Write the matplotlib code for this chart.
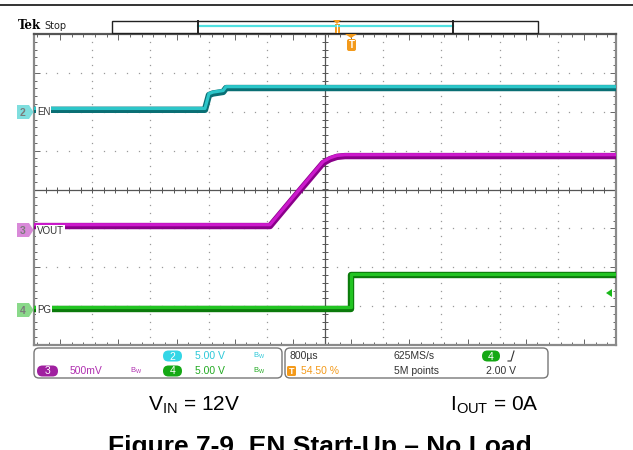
import numpy as np
import matplotlib.pyplot as plt
from matplotlib.patches import Polygon, FancyBboxPatch, Rectangle
from matplotlib.ticker import MultipleLocator

# -------------------------
# SCOPE SETTINGS
# -------------------------
t_per_div = 0.8          # ms/div (800 us)
trig_pct = 54.50         # trigger position, % of record
n_xdiv, n_ydiv = 10, 8
t_left = -trig_pct / 100 * n_xdiv * t_per_div
t_right = t_left + n_xdiv * t_per_div

# -------------------------
# TRACES (time in ms, volts)
# -------------------------
en_t = [t_left, -2.01, -1.955, -1.90, -1.76, -1.72, t_right]
en_v = [0.0, 0.0, 1.9, 2.1, 2.3, 2.8, 2.8]

vout_t = [t_left, -1.116, -0.704, -0.387, -0.291, -0.195, -0.085, t_right]
vout_v = [0.0, 0.0, 0.46, 0.81, 0.86, 0.89, 0.90, 0.90]

pg_t = [t_left, 0.0, 0.0, t_right]
pg_v = [0.0, 0.0, 4.35, 4.35]

# volts/div and position (div from screen centre)
en_scale, en_pos = 5.0, 2.05
vout_scale, vout_pos = 0.5, -0.94
pg_scale, pg_pos = 5.0, -3.07

W, H = 633, 450
fig = plt.figure(figsize=(W / 100, H / 100), dpi=100)
plt.rcParams['font.family'] = ['Liberation Sans', 'DejaVu Sans']

# plot area in pixels
px0, px1, py0, py1 = 34, 616, 34, 345
ax = fig.add_axes([px0 / W, 1 - py1 / H, (px1 - px0) / W, (py1 - py0) / H])
ax.set_xlim(t_left, t_right)
ax.set_ylim(-n_ydiv / 2, n_ydiv / 2)

# dotted graticule
grid_col = '#9a9a9a'
for i in range(1, n_xdiv):
    x = t_left + i * t_per_div
    if i == n_xdiv // 2:
        continue
    ys = np.arange(-4, 4.01, 0.2)
    ax.plot([x] * len(ys), ys, ls='none', marker='s', ms=0.9, mew=0, color=grid_col)
for j in range(-3, 4):
    if j == 0:
        continue
    xs = np.arange(t_left, t_right + 1e-6, t_per_div / 5)
    ax.plot(xs, [j] * len(xs), ls='none', marker='s', ms=0.9, mew=0, color=grid_col)

# centre cross
tc = t_left + 5 * t_per_div
ax.axvline(tc, color='#555555', lw=0.9)
ax.axhline(0, color='#555555', lw=0.9)
xs = np.arange(t_left, t_right + 1e-6, t_per_div / 5)
ax.plot(xs, [0] * len(xs), ls='none', marker='|', ms=4, mew=0.7, color='#555555')
ys = np.arange(-4, 4.01, 0.2)
ax.plot([tc] * len(ys), ys, ls='none', marker='_', ms=4, mew=0.7, color='#555555')

# border ticks
ax.xaxis.set_major_locator(MultipleLocator(t_per_div))
ax.xaxis.set_minor_locator(MultipleLocator(t_per_div / 5))
ax.yaxis.set_major_locator(MultipleLocator(1))
ax.yaxis.set_minor_locator(MultipleLocator(0.2))
ax.tick_params(which='both', direction='in', top=True, right=True,
               labelbottom=False, labelleft=False, color='#666666', width=0.7)
ax.tick_params(which='major', length=4)
ax.tick_params(which='minor', length=2.5)
for s in ax.spines.values():
    s.set_color('#8a8a8a')
    s.set_linewidth(1.6)
ax.spines['top'].set_color('#555555')


def trace(t, v, scale, pos, dark, bright):
    y = np.array(v) / scale + pos
    ax.plot(t, y, color=dark, lw=4.6, solid_joinstyle='round', zorder=3)
    ax.plot(t, y + 0.035, color=bright, lw=2.3, solid_joinstyle='round', zorder=4)


trace(en_t, en_v, en_scale, en_pos, '#0a6f74', '#2cc6c9')
trace(vout_t, vout_v, vout_scale, vout_pos, '#8a008a', '#cc1acc')
trace(pg_t, pg_v, pg_scale, pg_pos, '#0b7a0b', '#22c422')

# channel labels inside the screen
lbl_kw = dict(fontsize=7, color='#333333', va='center', ha='left', zorder=6,
              bbox=dict(fc='white', ec='none', pad=0.6))
dx = (t_right - t_left) / (px1 - px0)
ax.text(t_left + 3 * dx, en_pos - 0.05, 'EN', **lbl_kw)
ax.text(t_left + 3 * dx, vout_pos - 0.12, 'VOUT', **lbl_kw)
ax.text(t_left + 3 * dx, pg_pos - 0.02, 'PG', **lbl_kw)

# -------------------------
# OVERLAY (pixel coordinates)
# -------------------------
ov = fig.add_axes([0, 0, 1, 1], zorder=10)
ov.set_xlim(0, W)
ov.set_ylim(H, 0)
ov.axis('off')
ov.patch.set_alpha(0)

ov.plot([0, W], [5, 5], color='#333333', lw=1.4)
ov.text(18, 29, 'Tek', fontsize=8.5, fontweight='bold', family='DejaVu Serif', va='baseline')
ov.text(44, 29, 'Stop', fontsize=7, family='DejaVu Sans', va='baseline', color='#222222')

# record bar
ov.add_patch(Rectangle((112, 21), 426, 12, fc='white', ec='#222222', lw=1))
ov.plot([198, 453], [26, 26], color='#4fe0e0', lw=1.6)
ov.plot([198, 198], [21, 33], color='#222222', lw=1.4)
ov.plot([453, 453], [21, 33], color='#222222', lw=1.4)
orange = '#f39a1b'
ov.add_patch(Polygon([[333, 20], [341, 20], [337, 24]], closed=True, fc=orange, ec='none'))
ov.add_patch(Rectangle((334.5, 24), 5, 9, fc=orange, ec='none'))
ov.plot([337, 337], [25, 32], color='white', lw=0.8)

# trigger marker
ov.add_patch(Polygon([[345, 34], [357, 34], [351, 38]], closed=True, fc=orange, ec='none'))
ov.add_patch(FancyBboxPatch((347, 39), 9, 12, boxstyle='round,pad=0,rounding_size=2',
                            fc=orange, ec='none'))
ov.text(351.5, 45.5, 'T', fontsize=7, fontweight='bold', color='white', ha='center', va='center')

# channel ground markers
def ch_marker(y, num, fc):
    ov.add_patch(Polygon([[17, y - 7], [29, y - 7], [33.5, y], [29, y + 7], [17, y + 7]],
                         closed=True, fc=fc, ec='none'))
    ov.text(23, y + 0.5, num, fontsize=7.5, fontweight='bold', color='#7a7a7a',
            ha='center', va='center')


ch_marker(112, '2', '#7fdede')
ch_marker(230, '3', '#d98ad9')
ch_marker(310, '4', '#8ad98a')
ov.add_patch(Polygon([[606, 293], [612, 289], [612, 297]], closed=True, fc='#19b819', ec='none'))

# info panels
ov.add_patch(FancyBboxPatch((34, 348), 248, 30, boxstyle='round,pad=0,rounding_size=5',
                            fc='white', ec='#777777', lw=1))
ov.add_patch(FancyBboxPatch((285, 348), 263, 30, boxstyle='round,pad=0,rounding_size=5',
                            fc='white', ec='#777777', lw=1))


def pill(x, y, w, num, fc):
    ov.add_patch(FancyBboxPatch((x, y - 5.5), w, 11, boxstyle='round,pad=0,rounding_size=5.5',
                                fc=fc, ec='none'))
    ov.text(x + w / 2, y + 0.5, num, fontsize=7.5, color='white', ha='center', va='center')


cyan, mag, grn = '#2cc8d8', '#b030b0', '#22aa22'
r1, r2 = 356, 371
pill(163, r1, 19, '2', '#33d6e6')
ov.text(195, r1, '5.00 V', fontsize=7.5, color=cyan, va='center')
ov.text(253, r1, 'B$_\\mathregular{W}$', fontsize=5.5, color=cyan, va='center')
pill(37, r2, 21, '3', '#a020a0')
ov.text(70, r2, '500mV', fontsize=7.5, color=mag, va='center')
ov.text(130, r2, 'B$_\\mathregular{W}$', fontsize=5.5, color=mag, va='center')
pill(163, r2, 19, '4', '#14a814')
ov.text(195, r2, '5.00 V', fontsize=7.5, color=grn, va='center')
ov.text(253, r2, 'B$_\\mathregular{W}$', fontsize=5.5, color=grn, va='center')

ov.text(289, r1, '800\u00b5s', fontsize=7.5, color='#333333', va='center')
ov.add_patch(FancyBboxPatch((287, r2 - 5), 9, 10, boxstyle='round,pad=0,rounding_size=1.5',
                            fc=orange, ec='none'))
ov.text(291.5, r2 + 0.5, 'T', fontsize=6.5, fontweight='bold', color='white', ha='center', va='center')
ov.text(301, r2, '54.50 %', fontsize=7.5, color=orange, va='center')
ov.text(394, r1, '625MS/s', fontsize=7.5, color='#333333', va='center')
ov.text(394, r2, '5M points', fontsize=7.5, color='#333333', va='center')
pill(482, r1, 18, '4', '#14a814')
ov.plot([508, 511, 514, 514], [361, 361, 351, 351], color='#333333', lw=0.8)
ov.text(486, r2, '2.00 V', fontsize=7.5, color='#333333', va='center')

# conditions and caption
ov.text(194, 410, 'V$_\\mathregular{IN}$ = 12V', fontsize=15, ha='center', va='baseline')
ov.text(494, 410, 'I$_\\mathregular{OUT}$ = 0A', fontsize=15, ha='center', va='baseline')
ov.text(320, 454, 'Figure 7-9. EN Start-Up \u2013 No Load', fontsize=19,
        fontweight='bold', ha='center', va='baseline')

fig.savefig('out.png', dpi=100)
